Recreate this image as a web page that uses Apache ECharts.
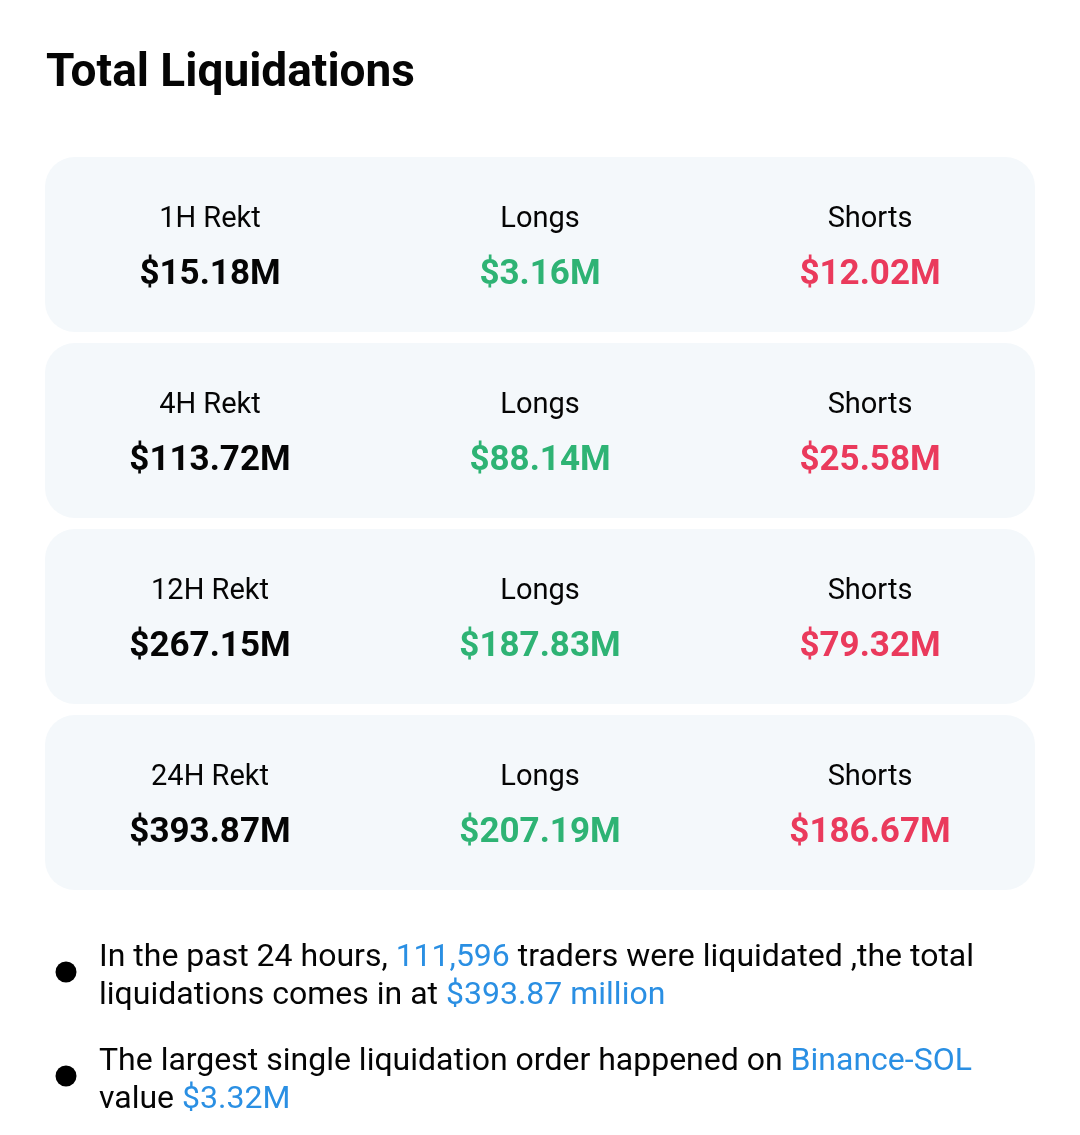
<!DOCTYPE html>
<html>
<head>
<meta charset="utf-8">
<style>
html, body { margin: 0; padding: 0; background: #fff; }
#main { width: 1080px; height: 1135px; }
</style>
<script src="https://cdn.jsdelivr.net/npm/echarts@6/dist/echarts.min.js"></script>
</head>
<body>
<div id="main"></div>
<script>
var chartTitle = 'Total Liquidations';
var rowNames = ['1H Rekt', '4H Rekt', '12H Rekt', '24H Rekt'];
var columns = ['Total', 'Longs', 'Shorts'];
var totalValues = [15.18, 113.72, 267.15, 393.87];
var longValues = [3.16, 88.14, 187.83, 207.19];
var shortValues = [12.02, 25.58, 79.32, 186.67];

var noteOne = [['In the past 24 hours, ', 'n'], ['111,596', 'b'], [' traders were liquidated ,the total\n', 'n'],
               ['liquidations comes in at ', 'n'], ['$393.87 million', 'b']];
var noteTwo = [['The largest single liquidation order happened on ', 'n'], ['Binance-SOL', 'b'], ['\n', 'n'],
               ['value ', 'n'], ['$3.32M', 'b']];

var BLACK = '#050505', GREEN = '#2eb374', RED = '#ea3a5c', BLUE = '#2a8fe3', CARD = '#f4f8fb';
var FONT = 'Roboto';

function money(v) { return '$' + v.toFixed(2) + 'M'; }

function richText(parts) {
    return parts.map(function (p) {
        // rich tags do not span line breaks, so split the break off first
        var seg = p[0].split('\n');
        return seg.map(function (s) { return s ? '{' + p[1] + '|' + s + '}' : ''; }).join('\n');
    }).join('');
}

var cellData = [];
rowNames.forEach(function (name, r) {
    cellData.push([0, r, name, money(totalValues[r]), BLACK]);
    cellData.push([1, r, columns[1], money(longValues[r]), GREEN]);
    cellData.push([2, r, columns[2], money(shortValues[r]), RED]);
});

function renderCard(params, api) {
    var c = api.coord([1, api.value(0)]);
    var cs = params.coordSys;
    return {
        type: 'rect',
        shape: { x: cs.x, y: c[1] - 87.5, width: cs.width, height: 175, r: 30 },
        style: { fill: CARD }
    };
}

function renderCell(params, api) {
    var c = api.coord([api.value(0), api.value(1)]);
    var d = cellData[params.dataIndex];
    return {
        type: 'group',
        children: [{
            type: 'text',
            style: { x: c[0], y: c[1] - 25, text: d[2], fill: BLACK, align: 'center', verticalAlign: 'middle',
                     font: '400 29px ' + FONT }
        }, {
            type: 'text',
            style: { x: c[0], y: c[1] + 31, text: d[3], fill: d[4], align: 'center', verticalAlign: 'middle',
                     font: '700 35px ' + FONT }
        }]
    };
}

var noteRich = {
    n: { fill: BLACK, font: '400 32px ' + FONT, lineHeight: 38 },
    b: { fill: BLUE, font: '400 32px ' + FONT, lineHeight: 38 }
};

var myChart = echarts.init(document.getElementById('main'), null, { renderer: 'canvas' });
var option = {
    animation: false,
    backgroundColor: '#ffffff',
    title: {
        text: chartTitle,
        left: 46,
        top: 51,
        padding: 0,
        textStyle: { fontFamily: FONT, fontWeight: 700, fontSize: 46, color: BLACK }
    },
    grid: { left: 45, top: 151.5, width: 990, height: 744 },
    xAxis: { type: 'category', data: columns, show: false },
    yAxis: { type: 'category', data: rowNames, inverse: true, show: false },
    series: [
        {
            type: 'custom',
            silent: true,
            renderItem: renderCard,
            encode: { y: 0 },
            data: rowNames.map(function (n, i) { return [i]; })
        },
        {
            type: 'custom',
            silent: true,
            z: 3,
            renderItem: renderCell,
            encode: { x: 0, y: 1 },
            data: cellData.map(function (d) { return [d[0], d[1]]; })
        }
    ],
    graphic: [
        { type: 'circle', shape: { cx: 66, cy: 972, r: 10.5 }, style: { fill: '#000' } },
        { type: 'circle', shape: { cx: 66, cy: 1076, r: 10.5 }, style: { fill: '#000' } },
        { type: 'text', x: 99, y: 939, style: { text: richText(noteOne), rich: noteRich, font: '400 32px ' + FONT, fill: BLACK } },
        { type: 'text', x: 99, y: 1043, style: { text: richText(noteTwo), rich: noteRich, font: '400 32px ' + FONT, fill: BLACK } }
    ]
};
myChart.setOption(option);
</script>
</body>
</html>
